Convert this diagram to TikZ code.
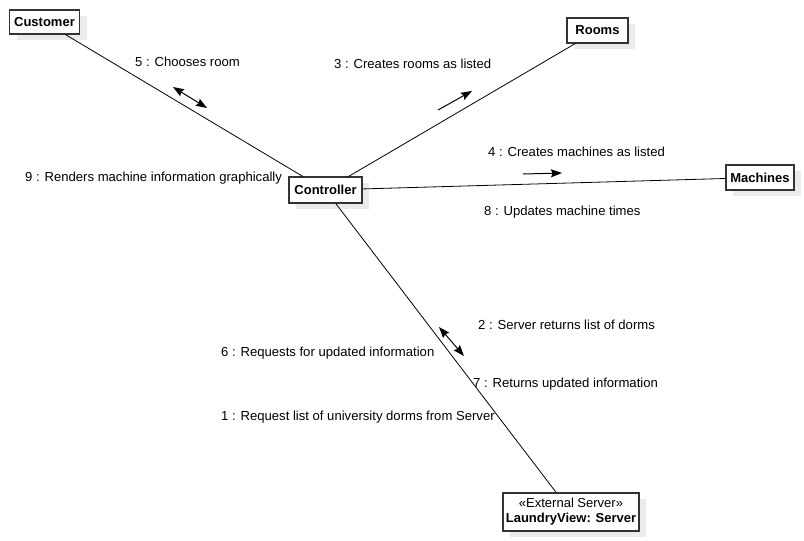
\documentclass[tikz,border=0pt]{standalone}
\usepackage{fontspec}
\setmainfont{Liberation Sans}
\usetikzlibrary{shadows,arrows.meta}
\begin{document}
\begin{tikzpicture}[x=1pt,y=-1pt,
  obj/.style={draw=black!80, line width=1.1pt, fill=white, inner sep=0pt,
    font=\fontsize{13}{15}\selectfont\bfseries,
    drop shadow={shadow xshift=7pt, shadow yshift=-6pt, fill=black!8, opacity=1}},
  link/.style={draw=black, line width=0.8pt},
  msg/.style={anchor=west, inner sep=0pt, font=\fontsize{13.1}{15}\selectfont},
  dir/.style={line width=1pt, -{Stealth[length=11pt,width=8pt,inset=1.5pt]}},
  bidir/.style={line width=1pt, {Stealth[length=11pt,width=8pt,inset=1.5pt]}-{Stealth[length=11pt,width=8pt,inset=1.5pt]}}]
\useasboundingbox (0,0) rectangle (804,541);
\fill[white] (0,0) rectangle (804,541);
% nodes
\node[obj, minimum width=70pt, minimum height=24pt] (cust) at (44.5,22) {Customer};
\node[obj, minimum width=73pt, minimum height=26pt] (ctrl) at (325.5,190) {Controller};
\node[obj, minimum width=61pt, minimum height=25pt] (rooms) at (597.5,30.5) {Rooms};
\node[obj, minimum width=68pt, minimum height=25pt] (mach) at (760,177.5) {Machines};
\node[obj, minimum width=136pt, minimum height=38pt, align=center] (srv) at (571,512)
  {{\mdseries «External Server»}\\LaundryView: Server};
% links
\draw[link] (cust) -- (ctrl);
\draw[link] (ctrl) -- (rooms);
\draw[link] (ctrl) -- (mach);
\draw[link] (ctrl) -- (srv);
% message arrows
\draw[bidir] (173,87) -- (207,108);
\draw[dir] (438,110) -- (472,91);
\draw[dir] (523,174) -- (562,173);
\draw[bidir] (439,327) -- (464,356);
% labels
\node[msg] (m5) at (135,62) {5 : Chooses room};
\node[msg] (m3) at (334,64) {3 : Creates rooms as listed};
\node[msg] (m4) at (488,152) {4 : Creates machines as listed};
\node[msg] (m8) at (484,212) {8 : Updates machine times};
\node[msg] (m9) at (25,178) {9 : Renders machine information graphically};
\node[msg] (m2) at (478,325) {2 : Server returns list of dorms};
\node[msg] (m6) at (221,353) {6 : Requests for updated information};
\node[msg] (m7) at (473,384) {7 : Returns updated information};
\node[msg] (m1) at (221,417) {1 : Request list of university dorms from Server};
\end{tikzpicture}
\end{document}
